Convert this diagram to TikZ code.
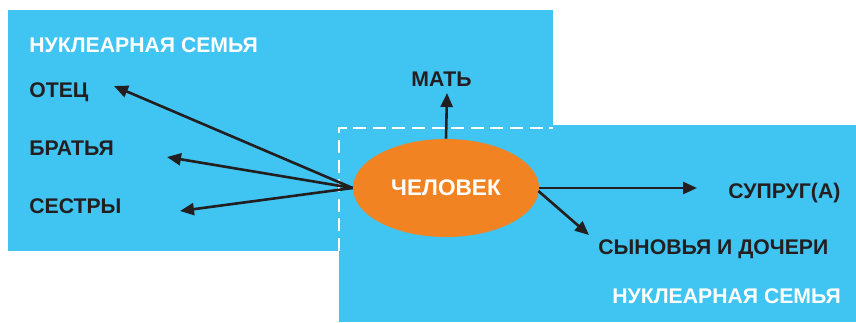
\documentclass[tikz,border=0pt]{standalone}
\usepackage{fontspec}
\setmainfont{Liberation Sans}
\usepackage{xcolor}
\usetikzlibrary{shapes,arrows.meta,positioning,calc}

\definecolor{famblue}{RGB}{64,196,242}
\definecolor{personorange}{RGB}{242,131,34}
\definecolor{labeldark}{RGB}{35,31,32}

\begin{document}
\begin{tikzpicture}[x=0.5pt,y=-0.5pt,
  member/.style={anchor=base west,inner sep=0pt,font=\bfseries\fontsize{10.6}{12}\selectfont,text=labeldark},
  famtitle/.style={member,text=white},
  rel/.style={line width=1.3pt,draw=labeldark,-{Triangle[length=7pt,width=6pt]}}]
\useasboundingbox (0,0) rectangle (856,322);
% two nuclear families
\fill[famblue] (8,10) rectangle (553,251);
\fill[famblue] (339,125) rectangle (856,322);
\draw[white,line width=1.3pt,dash pattern=on 6.5pt off 3.3pt] (339,251) -- (339,128) -- (553,128);

\node[ellipse,fill=personorange,minimum width=93pt,minimum height=49pt,inner sep=0pt,
      text=white,font=\bfseries\fontsize{11.3}{12}\selectfont] (person) at (446,188) {ЧЕЛОВЕК};

% family of origin
\node[famtitle] (origin) at (29,52) {НУКЛЕАРНАЯ СЕМЬЯ};
\node[member] (father) at (29,97) {ОТЕЦ};
\node[member] (brothers) at (29,155) {БРАТЬЯ};
\node[member] (sisters) at (29,213) {СЕСТРЫ};
\node[member] (mother) at (411,86) {МАТЬ};

% family of procreation
\node[member] (spouse) at (728,198) {СУПРУГ(А)};
\node[member] (children) at (598,254) {СЫНОВЬЯ И ДОЧЕРИ};
\node[famtitle] (procreation) at (612,303) {НУКЛЕАРНАЯ СЕМЬЯ};

% arrow tips
\coordinate (fatherTip) at (114,86);
\coordinate (brothersTip) at (167,157);
\coordinate (sistersTip) at (180,211);
\coordinate (motherTip) at (447,93);
\coordinate (spouseTip) at (697,188);
\coordinate (childrenTip) at (589,235);

\draw[rel] (person.west) -- (fatherTip);
\draw[rel] (person.west) -- (brothersTip);
\draw[rel] (person.west) -- (sistersTip);
\draw[rel] (person.north) -- (motherTip);
\draw[rel] (person.east) -- (spouseTip);
\draw[rel] ($(person.east)+(-1,3)$) -- (childrenTip);
\end{tikzpicture}
\end{document}
